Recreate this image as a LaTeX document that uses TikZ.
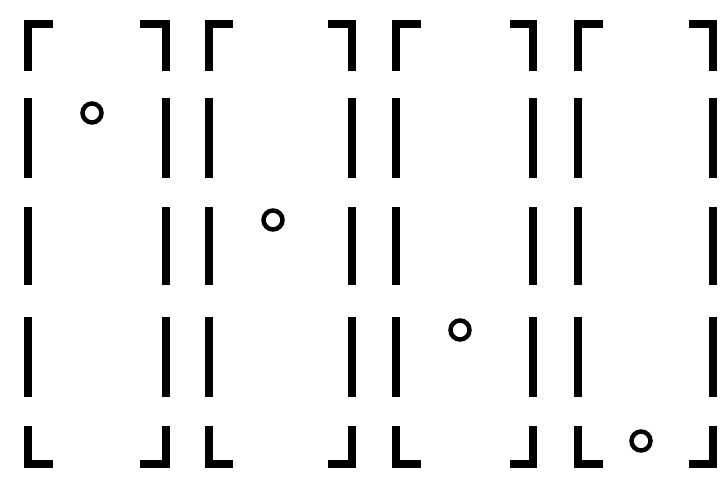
\documentclass[tikz,border=0pt]{standalone}
\usepackage{tikz}
\usetikzlibrary{positioning}

\begin{document}
\begin{tikzpicture}[
    x=1pt, y=-1pt,
    bar/.style={line width=7.5pt},
    dot/.style={draw, circle, line width=4.5pt, minimum size=19pt, inner sep=0pt}
]
    \useasboundingbox (0,0) rectangle (726,481);

    \draw[bar] (53,24) -- (28,24) -- (28,71);
    \draw[bar] (28,98) -- (28,178) (28,207) -- (28,285) (28,317) -- (28,397);
    \draw[bar] (28,426) -- (28,464) -- (53,464);
    \draw[bar] (140,24) -- (166,24) -- (166,71);
    \draw[bar] (166,98) -- (166,178) (166,207) -- (166,285) (166,317) -- (166,397);
    \draw[bar] (166,426) -- (166,464) -- (140,464);
    \node[dot] (c1) at (92,113) {};

    \draw[bar] (233,24) -- (209,24) -- (209,71);
    \draw[bar] (209,98) -- (209,178) (209,207) -- (209,285) (209,317) -- (209,397);
    \draw[bar] (209,426) -- (209,464) -- (233,464);
    \draw[bar] (328,24) -- (352,24) -- (352,71);
    \draw[bar] (352,98) -- (352,178) (352,207) -- (352,285) (352,317) -- (352,397);
    \draw[bar] (352,426) -- (352,464) -- (328,464);
    \node[dot] (c2) at (273,220) {};

    \draw[bar] (421,24) -- (396,24) -- (396,71);
    \draw[bar] (396,98) -- (396,178) (396,207) -- (396,285) (396,317) -- (396,397);
    \draw[bar] (396,426) -- (396,464) -- (421,464);
    \draw[bar] (510,24) -- (533,24) -- (533,71);
    \draw[bar] (533,98) -- (533,178) (533,207) -- (533,285) (533,317) -- (533,397);
    \draw[bar] (533,426) -- (533,464) -- (510,464);
    \node[dot] (c3) at (460,330) {};

    \draw[bar] (603,24) -- (578,24) -- (578,71);
    \draw[bar] (578,98) -- (578,178) (578,207) -- (578,285) (578,317) -- (578,397);
    \draw[bar] (578,426) -- (578,464) -- (603,464);
    \draw[bar] (689,24) -- (713,24) -- (713,71);
    \draw[bar] (713,98) -- (713,178) (713,207) -- (713,285) (713,317) -- (713,397);
    \draw[bar] (713,426) -- (713,464) -- (689,464);
    \node[dot] (c4) at (641,441) {};
\end{tikzpicture}
\end{document}
